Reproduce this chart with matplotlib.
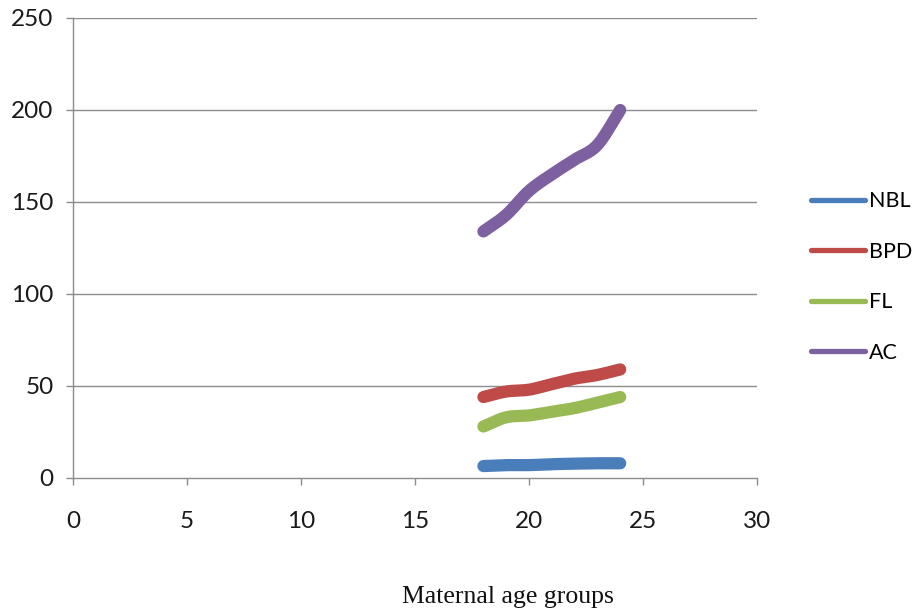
import numpy as np
import matplotlib
matplotlib.use("Agg")
import matplotlib.pyplot as plt
from matplotlib.lines import Line2D

# Maternal age (years) and fetal biometry measurements
ages = [18, 19, 20, 21, 22, 23, 24]
nbl = [6.5, 7, 7, 7.5, 7.8, 8, 8]
bpd = [44, 47, 48, 51, 54, 56, 59]
fl = [28, 33, 34, 36, 38, 41, 44]
ac = [134, 143, 156, 165, 173, 181, 200]

series_names = ["NBL", "BPD", "FL", "AC"]
series_colors = ["#4A7EBB", "#BE4B48", "#98B954", "#7D60A0"]

x_ticks = [0, 5, 10, 15, 20, 25, 30]
y_ticks = [0, 50, 100, 150, 200, 250]


def smooth_curve(x, y, steps=30):
    """Catmull-Rom style smoothed path through the given points."""
    x = np.asarray(x, float)
    y = np.asarray(y, float)
    px = np.concatenate([[2 * x[0] - x[1]], x, [2 * x[-1] - x[-2]]])
    py = np.concatenate([[2 * y[0] - y[1]], y, [2 * y[-1] - y[-2]]])
    xs, ys = [], []
    t = np.linspace(0, 1, steps, endpoint=False)
    for i in range(1, len(px) - 2):
        p0x, p1x, p2x, p3x = px[i - 1:i + 3]
        p0y, p1y, p2y, p3y = py[i - 1:i + 3]
        c1x, c1y = p1x + (p2x - p0x) / 6, p1y + (p2y - p0y) / 6
        c2x, c2y = p2x - (p3x - p1x) / 6, p2y - (p3y - p1y) / 6
        bx = (1 - t) ** 3 * p1x + 3 * (1 - t) ** 2 * t * c1x + 3 * (1 - t) * t ** 2 * c2x + t ** 3 * p2x
        by = (1 - t) ** 3 * p1y + 3 * (1 - t) ** 2 * t * c1y + 3 * (1 - t) * t ** 2 * c2y + t ** 3 * p2y
        xs.extend(bx)
        ys.extend(by)
    xs.append(x[-1])
    ys.append(y[-1])
    return np.array(xs), np.array(ys)


plt.rcParams["font.family"] = ["Lato", "DejaVu Sans"]

fig = plt.figure(figsize=(9.16, 6.12), dpi=100)
ax = fig.add_axes([73 / 916, 1 - 478 / 612, (757 - 73) / 916, (478 - 18) / 612])

grid_color = "#8C8C8C"
for yv in y_ticks[1:]:
    ax.axhline(yv, color=grid_color, lw=1.0, zorder=1)

for name, vals, col in zip(series_names, [nbl, bpd, fl, ac], series_colors):
    sx, sy = smooth_curve(ages, vals)
    ax.plot(sx, sy, color=col, lw=8.8, solid_capstyle="round", zorder=3, label=name)

ax.set_xlim(0, 30)
ax.set_ylim(0, 250)
ax.set_xticks(x_ticks)
ax.set_yticks(y_ticks)
ax.set_xticklabels([str(v) for v in x_ticks])
ax.set_yticklabels([str(v) for v in y_ticks])

for s in ["top", "right"]:
    ax.spines[s].set_visible(False)
for s in ["left", "bottom"]:
    ax.spines[s].set_color(grid_color)
    ax.spines[s].set_linewidth(1.0)

ax.tick_params(axis="both", colors=grid_color, length=5, width=1.0,
               labelsize=17.5, labelcolor="#1A1A1A")
ax.tick_params(axis="x", pad=19)
ax.tick_params(axis="y", pad=9)

# Legend on the right
handles = [Line2D([0], [0], color=c, lw=3.8, solid_capstyle="round") for c in series_colors]
leg = fig.legend(handles, series_names, loc="center left",
                 bbox_to_anchor=(811 / 916, 1 - 277 / 612), frameon=False,
                 fontsize=15.5, handlelength=2.5, handletextpad=0.18,
                 labelspacing=1.42, borderpad=0, borderaxespad=0)

fig.text(508 / 916, 1 - 597 / 612, "Maternal age groups", ha="center", va="center",
         fontsize=18.5, family=["Liberation Serif", "DejaVu Serif"], color="#111111")

fig.savefig("out.png", dpi=100, facecolor="white")
